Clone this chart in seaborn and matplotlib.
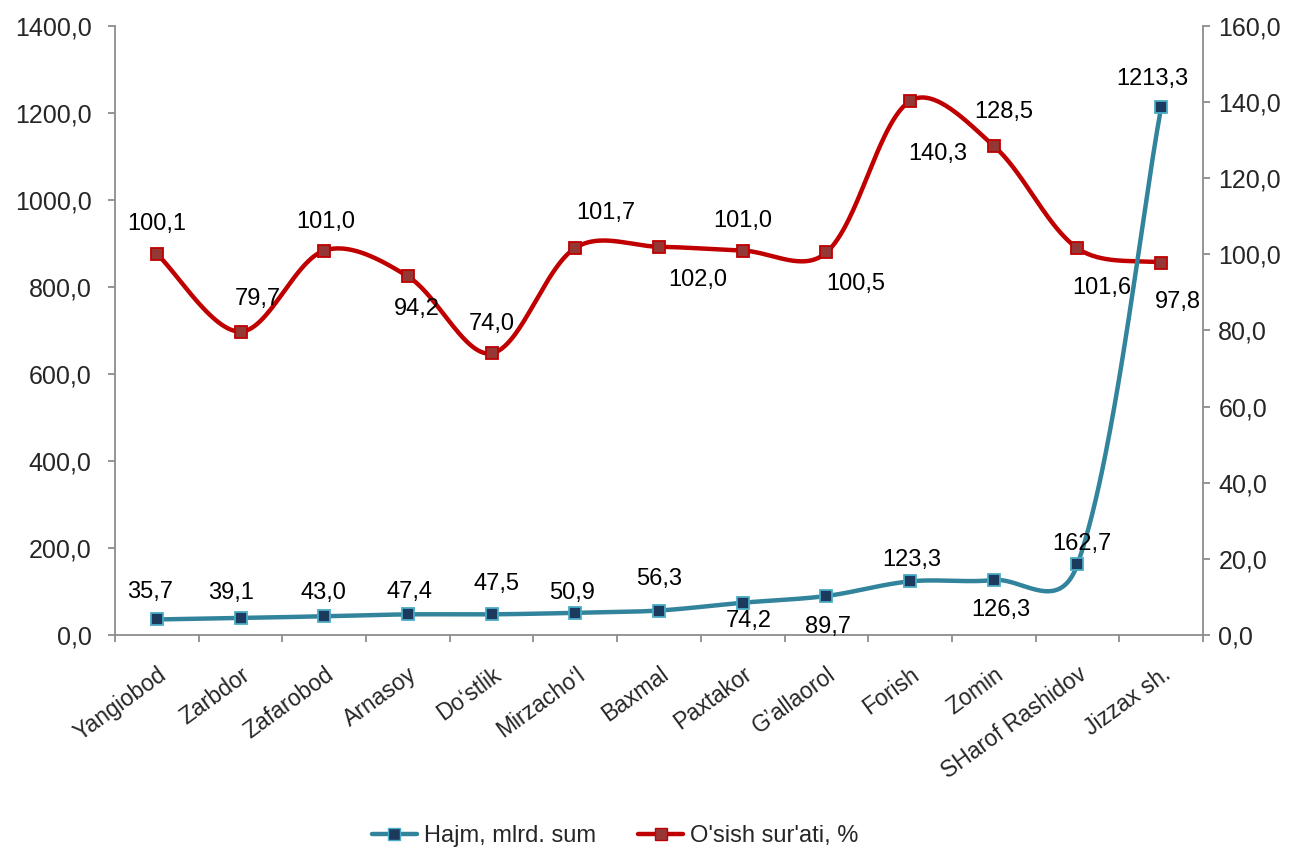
import numpy as np
import seaborn as sns
import matplotlib
matplotlib.use("Agg")
import matplotlib.pyplot as plt
from matplotlib.lines import Line2D
from matplotlib.ticker import FuncFormatter

sns.set_theme(style="ticks")
plt.rcParams["font.family"] = ["Liberation Sans", "DejaVu Sans"]

districts = ["Yangiobod", "Zarbdor", "Zafarobod", "Arnasoy", "Do\u2018stlik", "Mirzacho\u2018l",
             "Baxmal", "Paxtakor", "G\u2019allaorol", "Forish", "Zomin", "SHarof Rashidov", "Jizzax sh."]
hajm = [35.7, 39.1, 43.0, 47.4, 47.5, 50.9, 56.3, 74.2, 89.7, 123.3, 126.3, 162.7, 1213.3]
osish = [100.1, 79.7, 101.0, 94.2, 74.0, 101.7, 102.0, 101.0, 100.5, 140.3, 128.5, 101.6, 97.8]

# label offsets in pixels (dx, dy; dy positive = down), per point
hajm_off = [(-7, -27), (-10, -25), (-1, -23), (2, -22), (5, -30), (-3, -20), (0, -32), (6, 18),
            (2, 31), (2, -21), (7, 30), (4, -20), (-9, -28)]
osish_off = [(0, -30), (17, -33), (2, -29), (9, 33), (0, -29), (30, -35), (39, 33), (0, -30),
             (29, 32), (28, 53), (10, -34), (24, 40), (17, 39)]

teal, teal_face, teal_edge = "#31849B", "#1C3A5E", "#4BACC6"
red, red_face = "#C00000", "#953735"
grey = "#8C8C8C"


def smooth(a, x, y, n=60):
    # Excel-like smoothed line, built in screen space
    p = a.transData.transform(np.column_stack([x, y]).astype(float))
    p = np.vstack([p[0], p, p[-1]])
    ctrl_out, ctrl_in = [], []
    for i in range(1, len(p) - 1):
        d01 = np.linalg.norm(p[i] - p[i - 1])
        d12 = np.linalg.norm(p[i + 1] - p[i])
        tot = d01 + d12 if d01 + d12 > 0 else 1.0
        tan = p[i + 1] - p[i - 1]
        f_in = 0.5 * (1 / 6) + 0.5 * (d01 / tot / 3)
        f_out = 0.5 * (1 / 6) + 0.5 * (d12 / tot / 3)
        ctrl_in.append(p[i] - tan * f_in)
        ctrl_out.append(p[i] + tan * f_out)
    t = np.linspace(0, 1, n)[:, None]
    pts = []
    for i in range(len(x) - 1):
        p1, p2 = p[i + 1], p[i + 2]
        c1, c2 = ctrl_out[i], ctrl_in[i + 1]
        b = ((1 - t) ** 3) * p1 + 3 * ((1 - t) ** 2) * t * c1 + 3 * (1 - t) * t ** 2 * c2 + t ** 3 * p2
        pts.append(b if i == 0 else b[1:])
    pts = a.transData.inverted().transform(np.vstack(pts))
    return pts[:, 0], pts[:, 1]


def fmt(v):
    return f"{v:.1f}".replace(".", ",")


x = np.arange(len(districts))

fig = plt.figure(figsize=(13.01, 8.47), dpi=100)
ax = fig.add_axes([0.0884, 0.2503, 0.8363, 0.7190])
ax2 = ax.twinx()
ax.set_zorder(ax2.get_zorder() + 1)
ax.patch.set_visible(False)

ax.set_xlim(-0.5, len(districts) - 0.5)
ax.set_ylim(0, 1400)
ax.set_yticks(np.arange(0, 1401, 200))
ax2.set_ylim(0, 160)
ax2.set_yticks(np.arange(0, 161, 20))

sx, sy = smooth(ax2, x, osish)
sns.lineplot(x=sx, y=sy, ax=ax2, color=red, linewidth=3.2, sort=False, estimator=None)
ax2.plot(x, osish, linestyle="", marker="s", markersize=9, markerfacecolor=red_face,
         markeredgecolor=red, markeredgewidth=1.3)

sx, sy = smooth(ax, x, hajm)
sns.lineplot(x=sx, y=sy, ax=ax, color=teal, linewidth=3.2, sort=False, estimator=None)
ax.plot(x, hajm, linestyle="", marker="s", markersize=9, markerfacecolor=teal_face,
        markeredgecolor=teal_edge, markeredgewidth=1.3)

for xi, v, (dx, dy) in zip(x, hajm, hajm_off):
    ax.annotate(fmt(v), (xi, v), xytext=(dx, -dy), textcoords="offset pixels",
                ha="center", va="center", fontsize=17, color="black")
for xi, v, (dx, dy) in zip(x, osish, osish_off):
    ax2.annotate(fmt(v), (xi, v), xytext=(dx, -dy), textcoords="offset pixels",
                 ha="center", va="center", fontsize=17, color="black")

ax.set_xlim(-0.5, len(districts) - 0.5)
for a in (ax, ax2):
    a.yaxis.set_major_formatter(FuncFormatter(lambda v, _: fmt(v)))
    a.set_xlabel("")
    a.set_ylabel("")
    a.spines["top"].set_visible(False)
    for s in ("left", "right", "bottom"):
        a.spines[s].set_color(grey)
        a.spines[s].set_linewidth(1.3)
ax.spines["right"].set_visible(False)
ax2.spines["left"].set_visible(False)
ax2.spines["bottom"].set_visible(False)

ax.set_xticks(x)
ax.set_xticklabels(districts, rotation=36, ha="right", rotation_mode="anchor", fontsize=16.5)
ax.set_xticks(np.arange(-0.5, len(districts), 1), minor=True)
ax.tick_params(axis="x", which="major", length=0, pad=20)
ax.tick_params(axis="x", which="minor", length=5, width=1.3, color=grey)
ax.tick_params(axis="y", length=5, width=1.3, color=grey, labelsize=18, pad=12)
ax2.tick_params(axis="y", length=5, width=1.3, color=grey, labelsize=18, pad=6)

handles = [
    Line2D([], [], color=teal, linewidth=3.2, marker="s", markersize=9,
           markerfacecolor=teal_face, markeredgecolor=teal_edge),
    Line2D([], [], color=red, linewidth=3.2, marker="s", markersize=9,
           markerfacecolor=red_face, markeredgecolor=red),
]
fig.legend(handles, ["Hajm, mlrd. sum", "O'sish sur'ati, %"], loc="center",
           bbox_to_anchor=(0.473, 1 - 836 / 847), ncol=2, frameon=False, fontsize=17,
           handlelength=1.9, handletextpad=0.3, columnspacing=1.8)

fig.savefig("out.png", dpi=100)
